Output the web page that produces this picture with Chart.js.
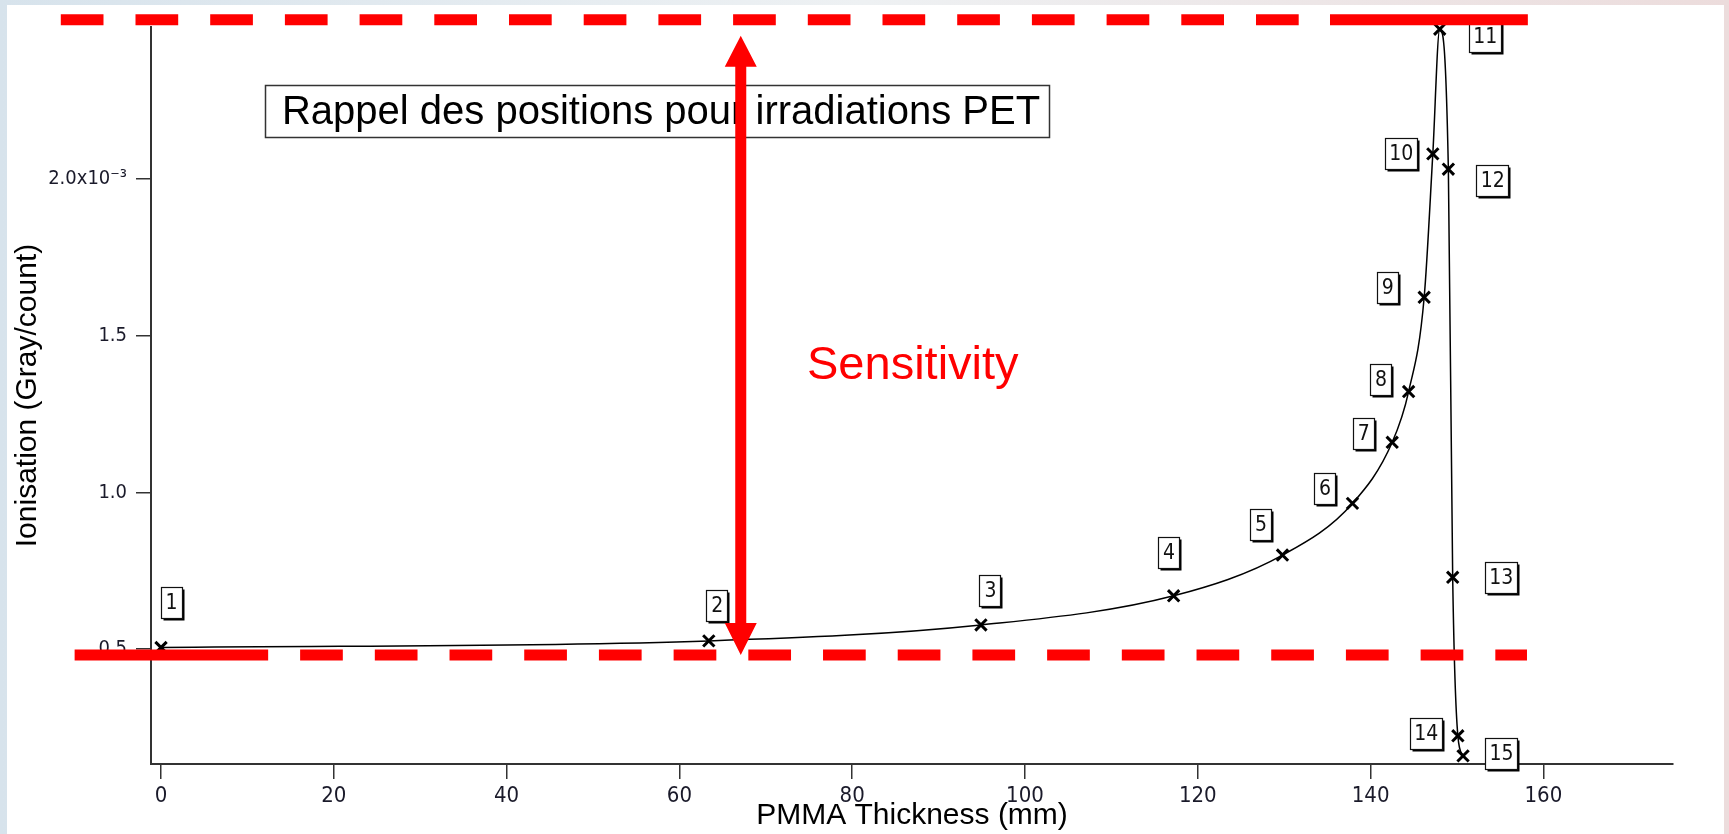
<!DOCTYPE html>
<html>
<head>
<meta charset="utf-8">
<script src="https://cdn.jsdelivr.net/npm/chart.js@4"></script>
<style>
  html, body { margin: 0; padding: 0; width: 1729px; height: 834px; overflow: hidden; }
  body { position: relative; background: linear-gradient(90deg, #d7e3ec 0%, #eef1f3 50%, #ecdcdc 100%); }
  #paper { position: absolute; left: 7px; top: 5px; width: 1717px; height: 829px; background: #fff; }
  #graf { position: absolute; left: 0; top: 0; }
</style>
</head>
<body>
<div id="paper"></div>
<canvas id="graf" width="1729" height="834"></canvas>
<script>
// donnees ------------------------------------------
const thickness = [0, 63.4, 94.9, 117.2, 129.8, 137.9, 142.5, 144.4, 146.2, 147.2, 148.0, 149.0, 149.5, 150.1, 150.7];
const ionisation = [0.505, 0.526, 0.577, 0.670, 0.800, 0.965, 1.160, 1.322, 1.623, 2.081, 2.479, 2.032, 0.729, 0.223, 0.159];
const positionLabels = ['1', '2', '3', '4', '5', '6', '7', '8', '9', '10', '11', '12', '13', '14', '15'];
const xTicks = [0, 20, 40, 60, 80, 100, 120, 140, 160];
const yTicks = [0.5, 1.0, 1.5, 2.0];

// decalage des etiquettes (px) par rapport au point
const labelOffsets = [[10, -45], [8, -35], [9, -34], [-5, -43], [-22, -31], [-28, -15], [-29, -9], [-28, -12],
  [-37, -10], [-32, 0], [45, 7], [44, 11], [48, 0], [-32, -2], [38, -2]];

// annotations (unites des axes)
const peakLevel = 2.509;
const entryLevel = 0.481;
const arrowAt = 67.1;

const FONT = "'Liberation Sans', Arial, sans-serif";
const NARROW = "'Liberation Sans Narrow', 'DejaVu Sans Condensed', 'Liberation Sans', Arial, sans-serif";

// etiquettes numerotees ----------------------------
const boxLabels = {
  id: 'boxLabels',
  afterDatasetsDraw(chart) {
    const ctx = chart.ctx;
    const pts = chart.getDatasetMeta(0).data;
    ctx.save();
    ctx.font = '21px ' + NARROW;
    ctx.textAlign = 'center';
    ctx.textBaseline = 'middle';
    pts.forEach((p, i) => {
      const txt = positionLabels[i];
      const w = txt.length > 1 ? 32 : 21;
      const h = 31;
      const cx = p.x + labelOffsets[i][0];
      const cy = p.y + labelOffsets[i][1];
      const x0 = Math.round(cx - w / 2), y0 = Math.round(cy - h / 2);
      ctx.fillStyle = '#000';
      ctx.fillRect(x0 + 2.5, y0 + 2.5, w, h);
      ctx.fillStyle = '#fff';
      ctx.fillRect(x0, y0, w, h);
      ctx.strokeStyle = '#111';
      ctx.lineWidth = 1.2;
      ctx.strokeRect(x0 + 0.5, y0 + 0.5, w, h);
      ctx.fillStyle = '#111';
      ctx.fillText(txt, cx + 0.5, cy + 1);
    });
    ctx.restore();
  }
};

// titre encadre, lignes rouges, fleche -------------
const annotations = {
  id: 'annotations',
  afterDraw(chart) {
    const ctx = chart.ctx;
    const xs = chart.scales.x, ys = chart.scales.y;
    ctx.save();

    // titre
    ctx.fillStyle = '#fff';
    ctx.fillRect(265, 85, 784, 52);
    ctx.strokeStyle = '#333';
    ctx.lineWidth = 1.5;
    ctx.strokeRect(265.5, 85.5, 784, 52);
    ctx.fillStyle = '#000';
    ctx.font = '40px ' + FONT;
    ctx.textAlign = 'center';
    ctx.textBaseline = 'middle';
    ctx.fillText('Rappel des positions pour irradiations PET', 661, 113);

    // lignes rouges en tirets
    const yTop = ys.getPixelForValue(peakLevel);
    const yBot = ys.getPixelForValue(entryLevel);
    ctx.strokeStyle = '#ff0000';
    ctx.lineWidth = 11;
    ctx.lineCap = 'butt';
    ctx.setLineDash([42.7, 32]);
    ctx.beginPath();
    ctx.moveTo(xs.getPixelForValue(-11.6), yTop);
    ctx.lineTo(xs.getPixelForValue(135.3), yTop);
    ctx.moveTo(xs.getPixelForValue(16.1), yBot);
    ctx.lineTo(xs.getPixelForValue(158.1), yBot);
    ctx.stroke();
    ctx.setLineDash([]);
    ctx.beginPath();
    ctx.moveTo(xs.getPixelForValue(135.3), yTop);
    ctx.lineTo(xs.getPixelForValue(158.2), yTop);
    ctx.moveTo(xs.getPixelForValue(-10.0), yBot);
    ctx.lineTo(xs.getPixelForValue(12.4), yBot);
    ctx.stroke();

    // fleche double
    const ax = xs.getPixelForValue(arrowAt);
    const tipTop = yTop + 16, tipBot = yBot;
    ctx.fillStyle = '#ff0000';
    ctx.fillRect(ax - 5.5, tipTop + 30, 11, tipBot - tipTop - 62);
    ctx.beginPath();
    ctx.moveTo(ax, tipTop);
    ctx.lineTo(ax - 16, tipTop + 31);
    ctx.lineTo(ax + 16, tipTop + 31);
    ctx.closePath();
    ctx.moveTo(ax, tipBot);
    ctx.lineTo(ax - 16, tipBot - 32);
    ctx.lineTo(ax + 16, tipBot - 32);
    ctx.closePath();
    ctx.fill();

    ctx.font = '47px ' + FONT;
    ctx.textAlign = 'left';
    ctx.textBaseline = 'alphabetic';
    ctx.fillText('Sensitivity', 807, 379);
    ctx.restore();
  }
};

const ctxGraf = document.getElementById('graf').getContext('2d');
new Chart(ctxGraf, {
  type: 'line',
  data: {
    datasets: [{
      data: thickness.map((t, i) => ({ x: t, y: ionisation[i] })),
      borderColor: '#000',
      borderWidth: 1.5,
      cubicInterpolationMode: 'monotone',
      pointStyle: 'crossRot',
      pointRadius: 8,
      pointBorderWidth: 3,
      pointBorderColor: '#000',
      pointBackgroundColor: '#000',
      clip: false,
      fill: false
    }]
  },
  options: {
    responsive: false,
    animation: false,
    devicePixelRatio: 1,
    layout: { padding: { left: 0, top: 27, right: 56, bottom: 0 } },
    plugins: { legend: { display: false }, tooltip: { enabled: false } },
    scales: {
      x: {
        type: 'linear',
        min: -1.16,
        max: 175,
        afterBuildTicks: s => { s.ticks = xTicks.map(v => ({ value: v })); },
        afterFit: s => { s.height = 70; },
        grid: { drawOnChartArea: false, drawTicks: true, tickLength: 15, color: '#333', lineWidth: 1.5 },
        border: { display: true, color: '#333', width: 2 },
        ticks: { color: '#1a1a2a', font: { size: 22, family: NARROW }, padding: 4, maxRotation: 0, autoSkip: false },
        title: { display: true, text: 'PMMA Thickness (mm)', color: '#000', font: { size: 30, family: FONT }, padding: { top: 0, bottom: 0 } }
      },
      y: {
        type: 'linear',
        min: 0.133,
        max: 2.486,
        afterBuildTicks: s => { s.ticks = yTicks.map(v => ({ value: v })); },
        afterFit: s => { s.width = 151; },
        grid: { drawOnChartArea: false, drawTicks: true, tickLength: 15, color: '#333', lineWidth: 1.5 },
        border: { display: true, color: '#333', width: 2 },
        ticks: {
          color: '#1a1a2a',
          font: { size: 20, family: NARROW },
          padding: 9,
          callback: v => v === 2 ? '2.0x10\u207B\u00B3' : v.toFixed(1)
        },
        title: { display: true, text: 'Ionisation (Gray/count)', color: '#000', font: { size: 30, family: FONT }, padding: { top: 10, bottom: 0 } }
      }
    }
  },
  plugins: [boxLabels, annotations]
});
</script>
</body>
</html>
